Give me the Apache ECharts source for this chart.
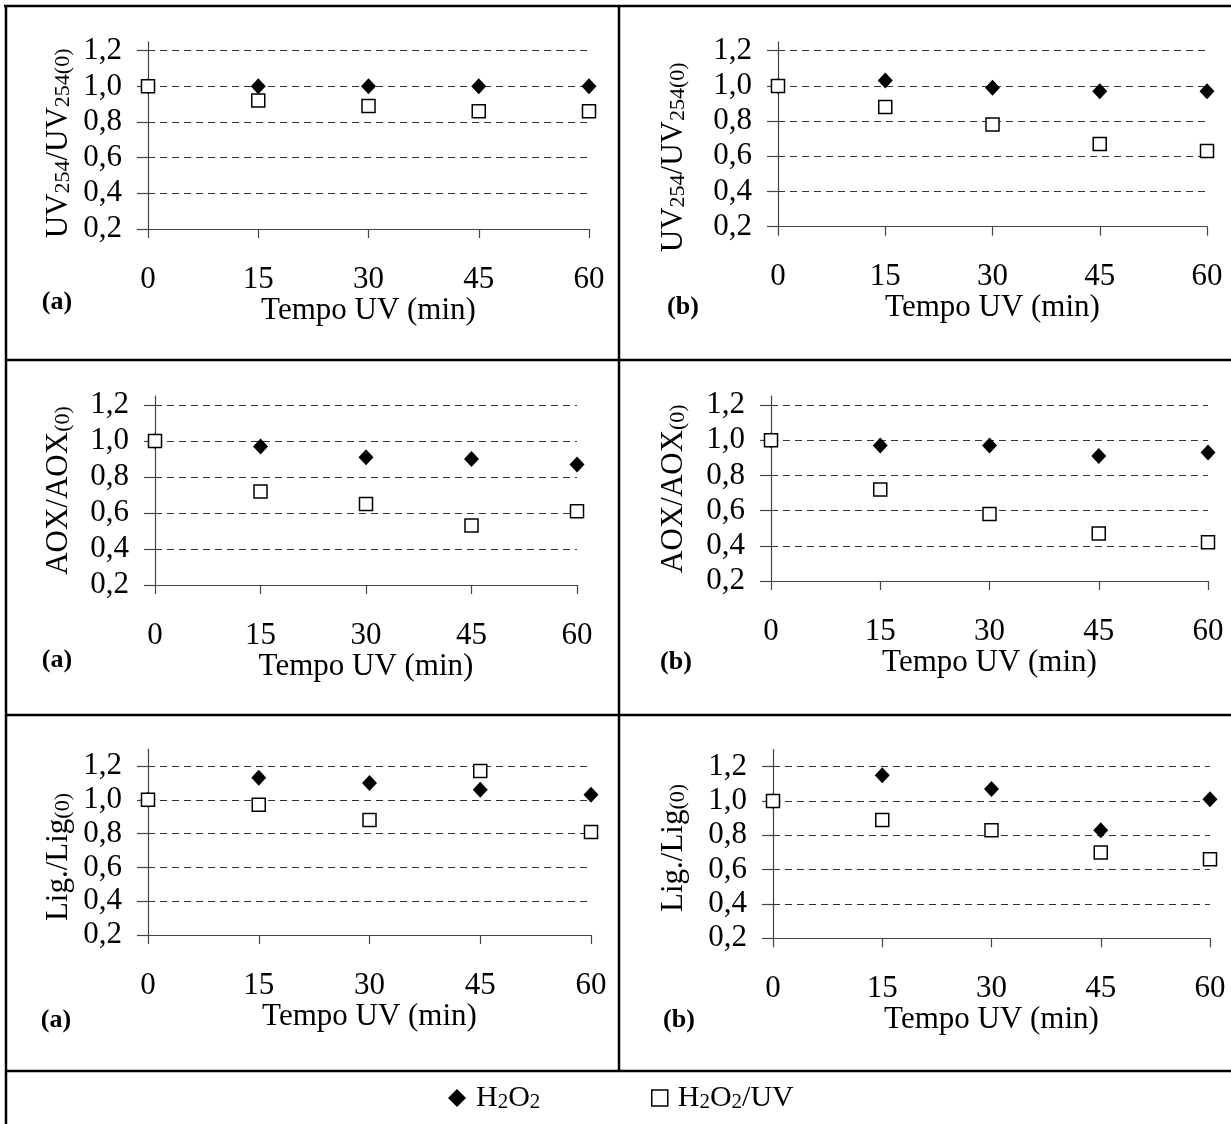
<!DOCTYPE html>
<html>
<head>
<meta charset="utf-8">
<script src="https://cdn.jsdelivr.net/npm/echarts@6/dist/echarts.min.js"></script>
<style>
    html, body {margin: 0; padding: 0; background: #fff;}
    #chart {width: 1231px; height: 1124px;}
</style>
</head>
<body>
<div id="chart"></div>
<script>
// time axis (min) and tick labels
const times = [0, 15, 30, 45, 60];
const yTicks = [0.2, 0.4, 0.6, 0.8, 1.0, 1.2];

// UV254 / UV254(0)
const uvH2O2_a = [1.0, 1.0, 1.0, 1.0, 1.0];
const uvH2O2UV_a = [1.0, 0.92, 0.89, 0.86, 0.86];
const uvH2O2_b = [1.0, 1.03, 0.99, 0.97, 0.97];
const uvH2O2UV_b = [1.0, 0.88, 0.78, 0.67, 0.63];

// AOX / AOX(0)
const aoxH2O2_a = [1.0, 0.97, 0.91, 0.90, 0.87];
const aoxH2O2UV_a = [1.0, 0.72, 0.65, 0.53, 0.61];
const aoxH2O2_b = [1.0, 0.97, 0.97, 0.91, 0.93];
const aoxH2O2UV_b = [1.0, 0.72, 0.58, 0.47, 0.42];

// Lig. / Lig(0)
const ligH2O2_a = [1.0, 1.13, 1.10, 1.06, 1.03];
const ligH2O2UV_a = [1.0, 0.97, 0.88, 1.17, 0.81];
const ligH2O2_b = [1.0, 1.15, 1.07, 0.83, 1.01];
const ligH2O2UV_b = [1.0, 0.89, 0.83, 0.70, 0.66];

const seriesNames = ['H2O2', 'H2O2/UV'];

const FONT = "'Liberation Serif', 'Times New Roman', serif";
const AXIS_COLOR = '#444';
const FS = 31;

// panel layout: pixel position of x=0 / x=60 and of the 1,2 / 0,2 gridlines
const panels = [
    {x0: 148, x60: 589, y12: 50.7, y02: 229, max: 1.25, yName: '{m|UV}{s|254}{m|/UV}{s|254(0)}', nameGap: 74, namePad: 8, tag: '(a)', tagX: 57, tagY: 302, h2o2: uvH2O2_a, h2o2uv: uvH2O2UV_a},
    {x0: 778, x60: 1207, y12: 50.7, y02: 226.7, max: 1.25, yName: '{m|UV}{s|254}{m|/UV}{s|254(0)}', nameGap: 89, namePad: 23, tag: '(b)', tagX: 683, tagY: 307, h2o2: uvH2O2_b, h2o2uv: uvH2O2UV_b},
    {x0: 155, x60: 577, y12: 405, y02: 585, max: 1.25, yName: '{m|AOX/AOX}{s|(0)}', nameGap: 81, namePad: 0, tag: '(a)', tagX: 57, tagY: 660, h2o2: aoxH2O2_a, h2o2uv: aoxH2O2UV_a},
    {x0: 771, x60: 1208, y12: 405, y02: 581, max: 1.25, yName: '{m|AOX/AOX}{s|(0)}', nameGap: 82, namePad: 0, tag: '(b)', tagX: 676, tagY: 662, h2o2: aoxH2O2_b, h2o2uv: aoxH2O2UV_b},
    {x0: 148, x60: 591, y12: 766, y02: 935, max: 1.3, yName: '{m|Lig./Lig}{s|(0)}', nameGap: 74, namePad: 15, tag: '(a)', tagX: 56, tagY: 1020, h2o2: ligH2O2_a, h2o2uv: ligH2O2UV_a},
    {x0: 773, x60: 1210, y12: 766.7, y02: 938.3, max: 1.3, yName: '{m|Lig./Lig}{s|(0)}', nameGap: 84, namePad: 4, tag: '(b)', tagX: 679, tagY: 1020, h2o2: ligH2O2_b, h2o2uv: ligH2O2UV_b},
];

const subRich = {
    m: {fontSize: FS, fontFamily: FONT, color: '#000', lineHeight: 30, verticalAlign: 'bottom'},
    s: {fontSize: 22, fontFamily: FONT, color: '#000', lineHeight: 22, verticalAlign: 'bottom'}
};

let grids = [], xAxes = [], yAxes = [], series = [], graphics = [];

panels.forEach((p, i) => {
    let unit = p.y02 - p.y12;
    let top = p.y12 - (p.max - 1.2) * unit;
    grids.push({
        left: p.x0, top: top, width: p.x60 - p.x0, height: p.y02 - top,
        containLabel: false, outerBoundsMode: 'none'
    });
    xAxes.push({
        gridIndex: i, type: 'value', min: 0, max: 60, interval: 15,
        name: 'Tempo UV (min)', nameLocation: 'middle', nameGap: 66, nameMoveOverlap: false,
        nameTextStyle: {fontSize: FS, fontFamily: FONT, color: '#000'},
        axisLine: {show: true, onZero: false, lineStyle: {color: AXIS_COLOR, width: 1.2}},
        axisTick: {show: true, inside: false, length: 9, lineStyle: {color: AXIS_COLOR, width: 1.2}},
        axisLabel: {fontSize: FS, fontFamily: FONT, color: '#000', margin: 35},
        splitLine: {show: false}
    });
    yAxes.push({
        gridIndex: i, type: 'value', min: 0.2, max: p.max, interval: 0.2,
        name: p.yName, nameLocation: 'middle', nameRotate: 90, nameGap: p.nameGap, nameMoveOverlap: false,
        nameTextStyle: {rich: subRich, padding: [0, p.namePad * 2, 0, 0]},
        axisLine: {show: true, onZero: false, lineStyle: {color: AXIS_COLOR, width: 1.2}},
        axisTick: {show: true, inside: false, length: 11, customValues: yTicks, lineStyle: {color: AXIS_COLOR, width: 1.2}},
        axisLabel: {
            fontSize: FS, fontFamily: FONT, color: '#000', margin: 26,
            customValues: yTicks,
            formatter: v => v.toFixed(1).replace('.', ',')
        },
        splitLine: {show: true, showMinLine: false, showMaxLine: true, lineStyle: {color: '#333', width: 1, type: [7, 5]}}
    });
    series.push({
        name: seriesNames[0], type: 'scatter', xAxisIndex: i, yAxisIndex: i,
        symbol: 'diamond', symbolSize: [15, 16],
        itemStyle: {color: '#000', opacity: 1},
        data: times.map((t, k) => [t, p.h2o2[k]]),
        z: 2
    });
    series.push({
        name: seriesNames[1], type: 'scatter', xAxisIndex: i, yAxisIndex: i,
        symbol: 'rect', symbolSize: 13,
        itemStyle: {color: '#fff', borderColor: '#000', borderWidth: 1.5, opacity: 1},
        data: times.map((t, k) => [t, p.h2o2uv[k]]),
        z: 3
    });
    graphics.push({
        type: 'text', x: p.tagX, y: p.tagY, silent: true,
        style: {text: p.tag, font: 'bold 26px ' + FONT, fill: '#000', textAlign: 'center', textVerticalAlign: 'middle'}
    });
});

// table borders
const border = (x1, y1, x2, y2) => ({
    type: 'line', shape: {x1: x1, y1: y1, x2: x2, y2: y2},
    style: {stroke: '#000', lineWidth: 2.5}, silent: true
});
graphics.push(border(4, 6, 1231, 6));
graphics.push(border(6, 5, 6, 1124));
graphics.push(border(619, 5, 619, 1071));
graphics.push(border(5, 360, 1231, 360));
graphics.push(border(5, 715, 1231, 715));
graphics.push(border(5, 1071, 1231, 1071));

const legendRich = {
    m: {fontSize: 30, fontFamily: FONT, color: '#000', lineHeight: 30, verticalAlign: 'bottom'},
    s: {fontSize: 21, fontFamily: FONT, color: '#000', lineHeight: 22, verticalAlign: 'bottom'}
};
const legendLabel = name => name === 'H2O2' ? '{m|H}{s|2}{m|O}{s|2}' : '{m|H}{s|2}{m|O}{s|2}{m|/UV}';

let myChart = echarts.init(document.getElementById('chart'));

let option = {
    animation: false,
    backgroundColor: '#fff',
    textStyle: {fontFamily: FONT},
    grid: grids,
    xAxis: xAxes,
    yAxis: yAxes,
    legend: [
        {
            left: 443, top: 1078, orient: 'horizontal', itemWidth: 18, itemHeight: 18,
            data: [{name: 'H2O2', icon: 'diamond', itemStyle: {color: '#000', opacity: 1}}],
            formatter: legendLabel,
            textStyle: {rich: legendRich, padding: [0, 0, 0, 5]}
        },
        {
            left: 646, top: 1078, orient: 'horizontal', itemWidth: 16, itemHeight: 16,
            data: [{name: 'H2O2/UV', icon: 'rect', itemStyle: {color: '#fff', borderColor: '#000', borderWidth: 1.5, opacity: 1}}],
            formatter: legendLabel,
            textStyle: {rich: legendRich, padding: [0, 0, 0, 5]}
        }
    ],
    graphic: graphics,
    series: series
};

myChart.setOption(option);
</script>
</body>
</html>
